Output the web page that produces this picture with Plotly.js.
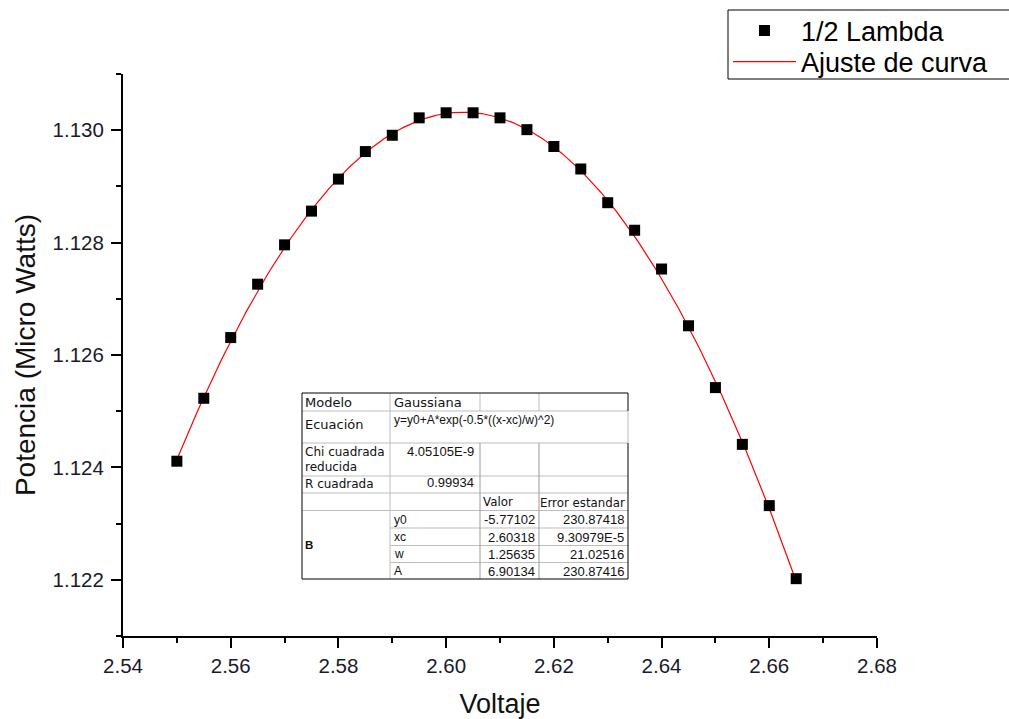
<!DOCTYPE html>
<html>
<head>
<meta charset="utf-8">
<script src="https://cdn.plot.ly/plotly-3.0.1.min.js"></script>
<style>
  html, body { margin: 0; padding: 0; background: #ffffff; }
  #chart { width: 1009px; height: 719px; }
</style>
</head>
<body>
<div id="chart"></div>
<script>
// Measured points: voltage vs. power at half wavelength
const voltaje = [2.550, 2.555, 2.560, 2.565, 2.570, 2.575, 2.580, 2.585, 2.590, 2.595,
                 2.600, 2.605, 2.610, 2.615, 2.620, 2.625, 2.630, 2.635, 2.640, 2.645,
                 2.650, 2.655, 2.660, 2.665];
const potencia = [1.12411, 1.12523, 1.12631, 1.12726, 1.12796, 1.12856, 1.12913, 1.12962, 1.12991, 1.13022,
                  1.13031, 1.13031, 1.13022, 1.13001, 1.12971, 1.12931, 1.12871, 1.12822, 1.12753, 1.12652,
                  1.12542, 1.12441, 1.12332, 1.12202];

// Gaussian fit results
const modelName = 'Gaussiana';
const modelEquation = 'y=y0+A*exp(-0.5*((x-xc)/w)^2)';
const chiSqrText = '4.05105E-9';
const rSqrText = '0.99934';
const paramNames = ['y0', 'xc', 'w', 'A'];
const paramValues = [-5.77102, 2.60318, 1.25635, 6.90134];
const paramErrors = ['230.87418', '9.30979E-5', '21.02516', '230.87416'];

// Axis ticks
const xTickVals = [2.54, 2.56, 2.58, 2.60, 2.62, 2.64, 2.66, 2.68];
const xTickText = ['2.54', '2.56', '2.58', '2.60', '2.62', '2.64', '2.66', '2.68'];
const xMinorVals = [2.55, 2.57, 2.59, 2.61, 2.63, 2.65, 2.67];
const yTickVals = [1.122, 1.124, 1.126, 1.128, 1.130];
const yTickText = ['1.122', '1.124', '1.126', '1.128', '1.130'];
const yMinorVals = [1.121, 1.123, 1.125, 1.127, 1.129, 1.131];

// Fitted curve evaluated from the table's parameters over the measured span
const [fy0, fxc, fw, fA] = paramValues;
const nFit = 240;
const xStart = voltaje[0], xEnd = voltaje[voltaje.length - 1];
const fitX = [], fitY = [];
for (let i = 0; i <= nFit; i++) {
  const x = xStart + (xEnd - xStart) * i / nFit;
  fitX.push(x);
  fitY.push(fy0 + fA * Math.exp(-0.5 * Math.pow((x - fxc) / fw, 2)));
}

// Plot frame in pixels
const W = 1009, H = 719;
const M = { l: 123, r: 132, t: 74, b: 83, autoexpand: false };
const plotW = W - M.l - M.r, plotH = H - M.t - M.b;
const px = v => (v - M.l) / plotW;
const py = v => (H - M.b - v) / plotH;

const ARIAL = 'Liberation Sans, Arial, sans-serif';
const VERD = 'DejaVu Sans, Verdana, sans-serif';

// Results table drawn as an inset box
const tbl = { left: 302, right: 628, top: 393, bottom: 579, c1: 390, c2: 480, c3: 539,
              rows: [411, 443, 476, 493, 510.5], subRows: [528, 545.5, 562.5] };
const shapes = [];
const seg = (x0, y0, x1, y1, color) => shapes.push({
  type: 'line', xref: 'paper', yref: 'paper',
  x0: px(x0), y0: py(y0), x1: px(x1), y1: py(y1),
  line: { color: color, width: 1 }
});
const GRID = '#bdbdbd';
tbl.rows.forEach(r => seg(tbl.left, r, tbl.right, r, GRID));
tbl.subRows.forEach(r => seg(tbl.c1, r, tbl.right, r, GRID));
seg(tbl.c1, tbl.top, tbl.c1, tbl.bottom, GRID);
[tbl.c2, tbl.c3].forEach(c => {
  seg(c, tbl.top, c, tbl.rows[0], GRID);
  seg(c, tbl.rows[1], c, tbl.bottom, '#9a9a9a');
});
seg(tbl.left, tbl.top, tbl.right, tbl.top, '#000');
seg(tbl.left, tbl.bottom, tbl.right, tbl.bottom, '#000');
seg(tbl.left, tbl.top, tbl.left, tbl.bottom, '#000');
seg(tbl.right, tbl.top, tbl.right, tbl.rows[0], '#000');
seg(tbl.right, tbl.rows[0], tbl.right, tbl.rows[1], GRID);
seg(tbl.right, tbl.rows[1], tbl.right, tbl.bottom, '#000');

// Legend frame (two single-entry legends share one box)
shapes.push({
  type: 'rect', xref: 'paper', yref: 'paper',
  x0: px(728), y0: py(10), x1: px(1030), y1: py(79),
  line: { color: '#000', width: 1 }, fillcolor: 'rgba(0,0,0,0)'
});

const annotations = [];
const txt = (text, x, y, anchor, font, size, bold) => annotations.push({
  xref: 'paper', yref: 'paper', x: px(x), y: py(y),
  xanchor: anchor, yanchor: 'middle', showarrow: false, borderpad: 0,
  text: bold ? '<b>' + text + '</b>' : text,
  font: { family: font, size: size, color: '#111' }
});
txt('Modelo', 304, 402, 'left', VERD, 13);
txt(modelName, 393, 402, 'left', VERD, 13);
txt('Ecuación', 304, 425, 'left', VERD, 13);
txt(modelEquation, 393, 420, 'left', ARIAL, 12);
txt('Chi cuadrada', 304, 452, 'left', VERD, 12);
txt('reducida', 304, 467, 'left', VERD, 12);
txt(chiSqrText, 475, 451, 'right', ARIAL, 13);
txt('R cuadrada', 304, 484, 'left', VERD, 12);
txt(rSqrText, 475, 483, 'right', ARIAL, 13);
txt('Valor', 482, 502, 'left', VERD, 11.8);
txt('Error estandar', 539, 503, 'left', VERD, 11.8);
txt('B', 304, 545, 'left', ARIAL, 11.5, true);
const subCenters = [519.5, 537, 554, 571];
paramNames.forEach((n, i) => {
  txt(n, 393, subCenters[i], 'left', ARIAL, 12);
  txt(paramValues[i].toFixed(5), 536, subCenters[i], 'right', ARIAL, 13);
  txt(paramErrors[i], 625, subCenters[i], 'right', ARIAL, 13);
});

const traces = [
  {
    x: fitX, y: fitY, type: 'scatter', mode: 'lines', name: 'Ajuste de curva',
    line: { color: '#ff0000', width: 1.2 }, legend: 'legend2', hoverinfo: 'skip'
  },
  {
    x: voltaje, y: potencia, type: 'scatter', mode: 'markers', name: '1/2 Lambda',
    marker: { symbol: 'square', size: 11, color: '#000000' }, legend: 'legend'
  }
];

const axisCommon = {
  showline: true, linecolor: '#000', linewidth: 2,
  ticks: 'outside', ticklen: 10, tickwidth: 2, tickcolor: '#000',
  showgrid: false, zeroline: false, mirror: false, automargin: false,
  tickfont: { family: ARIAL, size: 20.5, color: '#1a1a2a' },
  tickmode: 'array'
};

const legendCommon = {
  xanchor: 'left', yanchor: 'middle',
  borderwidth: 0, bgcolor: 'rgba(0,0,0,0)',
  font: { family: ARIAL, size: 27, color: '#000' },
  itemwidth: 63
};

const layout = {
  width: W, height: H,
  margin: M,
  paper_bgcolor: '#fff', plot_bgcolor: '#fff',
  showlegend: true,
  legend: Object.assign({}, legendCommon, { x: px(728), y: py(31) }),
  legend2: Object.assign({}, legendCommon, { x: px(728), y: py(62) }),
  xaxis: Object.assign({}, axisCommon, {
    range: [2.54, 2.68], tickvals: xTickVals, ticktext: xTickText,
    minor: { tickvals: xMinorVals, ticks: 'outside', ticklen: 5, tickwidth: 2, tickcolor: '#000' },
    title: { text: 'Voltaje', font: { family: ARIAL, size: 27, color: '#111' }, standoff: 22 }
  }),
  yaxis: Object.assign({}, axisCommon, {
    range: [1.121, 1.131], tickvals: yTickVals, ticktext: yTickText,
    ticklabelstandoff: 3,
    minor: { tickvals: yMinorVals, ticks: 'outside', ticklen: 5, tickwidth: 2, tickcolor: '#000' },
    title: { text: 'Potencia (Micro Watts)', font: { family: ARIAL, size: 28, color: '#111' }, standoff: 9 }
  }),
  shapes: shapes,
  annotations: annotations
};

Plotly.newPlot('chart', traces, layout, { displayModeBar: false, staticPlot: true });
</script>
</body>
</html>
